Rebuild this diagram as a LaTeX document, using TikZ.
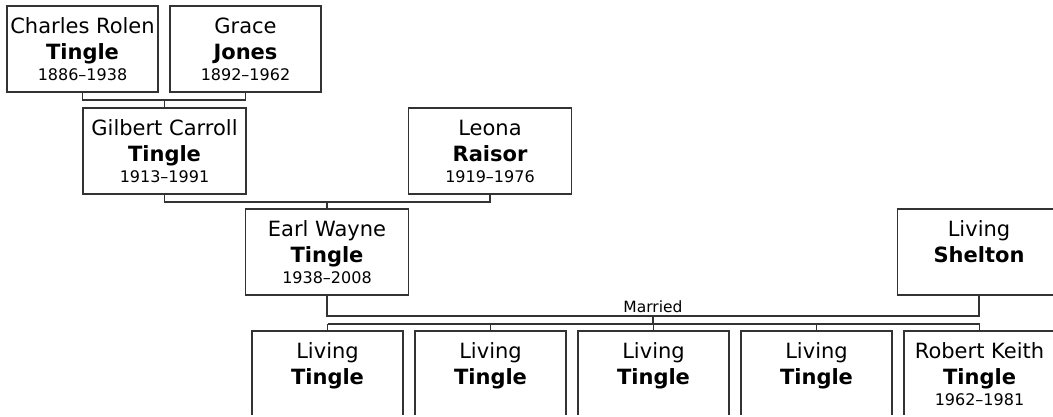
\documentclass[tikz,border=0pt]{standalone}
\usepackage{fontspec}
\setmainfont{DejaVu Sans}
\usetikzlibrary{positioning,calc}
\newcommand{\yrs}[1]{{\fontsize{16}{19}\selectfont #1}}

\begin{document}
\begin{tikzpicture}[
    x=1pt, y=-1pt,
    every node/.style={font=\fontsize{21}{26}\selectfont},
    person/.style={
        draw=black!80, rectangle,
        line width=1.2pt,
        minimum width=151pt,
        minimum height=86pt,
        align=center,
        execute at begin node={\rule{0pt}{26pt}},
        inner sep=0pt, outer sep=0pt,
        anchor=north
    },
    wide/.style={person, minimum width=163pt},
    tag/.style={font=\fontsize{15.5}{18}\selectfont, inner sep=0pt},
    link/.style={draw=black!80, line width=1.1pt}
]

\useasboundingbox (0,0) rectangle (1053,416);
\clip (0,0) rectangle (1053,414.5);

%% ── Grandparents ──────────────────────────────────────
\node[person] (charles) at (82.5,6)
    {Charles Rolen\\\textbf{Tingle}\\[-5pt]\yrs{1886--1938}};
\node[person, right=12pt of charles] (grace)
    {Grace\\\textbf{Jones}\\[-5pt]\yrs{1892--1962}};

%% ── Parents ───────────────────────────────────────────
\node[wide] (gilbert) at (164.5,108)
    {Gilbert Carroll\\\textbf{Tingle}\\[-5pt]\yrs{1913--1991}};
\node[wide] (leona) at (490,108)
    {Leona\\\textbf{Raisor}\\[-5pt]\yrs{1919--1976}};

%% ── Couple ────────────────────────────────────────────
\node[wide] (earl) at (327,209)
    {Earl Wayne\\\textbf{Tingle}\\[-5pt]\yrs{1938--2008}};
\node[wide] (shelton) at (979,209)
    {Living\\\textbf{Shelton}\\[-5pt]\yrs{\vphantom{1}}};

%% ── Children ──────────────────────────────────────────
\node[person] (kid1) at (327.5,331)
    {Living\\\textbf{Tingle}\\[-5pt]\yrs{\vphantom{1}}};
\node[person, right=12pt of kid1] (kid2)
    {Living\\\textbf{Tingle}\\[-5pt]\yrs{\vphantom{1}}};
\node[person, right=12pt of kid2] (kid3)
    {Living\\\textbf{Tingle}\\[-5pt]\yrs{\vphantom{1}}};
\node[person, right=12pt of kid3] (kid4)
    {Living\\\textbf{Tingle}\\[-5pt]\yrs{\vphantom{1}}};
\node[person, right=12pt of kid4] (kid5)
    {Robert Keith\\\textbf{Tingle}\\[-5pt]\yrs{1962--1981}};

%% ── Brackets between generations ─────────────────────
\draw[link] (charles.south) -- ++(0,8) coordinate (cg) -| (grace.south);
\draw[link] (gilbert.north) -- (gilbert.north |- cg);
\draw[link] (gilbert.south) -- ++(0,8) coordinate (gl) -| (leona.south);
\draw[link] (earl.north) -- (earl.north |- gl);

%% ── Marriage line + children bar ─────────────────────
\draw[link] (earl.south) -- ++(0,21) coordinate (es) -| (shelton.south);
\coordinate (wed) at ($(es)!0.5!(es -| shelton.south)$);
\node[tag, anchor=base] (married) at ($(wed)+(0,-4)$) {Married};
\draw[link] (wed) -- ++(0,8) coordinate (bar);
\draw[link] (kid1.north |- bar) -- (kid5.north |- bar);
\foreach \k in {kid1,kid2,kid3,kid4,kid5}{
    \draw[link] (\k.north) -- (\k.north |- bar);
}

\end{tikzpicture}
\end{document}
